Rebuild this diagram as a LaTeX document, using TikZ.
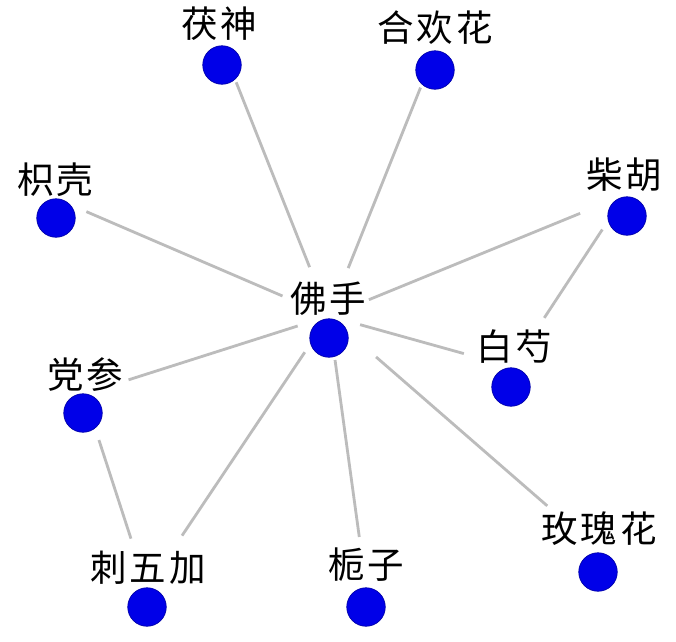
\documentclass[tikz,border=0pt]{standalone}
\usepackage{fontspec}
\newfontfamily\cjk{Noto Sans CJK SC}
\definecolor{dotblue}{RGB}{0,0,232}
\definecolor{dotedge}{RGB}{0,0,170}
\definecolor{edgegray}{RGB}{188,188,188}
\newcommand{\gp}{\kern3pt}
\begin{document}
\begin{tikzpicture}[x=1pt,y=-1pt,
  lbl/.style={font=\cjk\fontsize{36.5}{40}\selectfont, inner sep=0pt, anchor=center},
  dot/.style={circle, minimum size=38.5pt, inner sep=0pt, fill=dotblue, draw=dotedge, line width=0.7pt},
  edge/.style={draw=edgegray, line width=2.8pt}]
\useasboundingbox[fill=white] (0,0) rectangle (676,641);

% group centres
\coordinate (hub) at (329,316);
\coordinate (fushen) at (221,44);
\coordinate (hehuan) at (436,49);
\coordinate (zhike) at (57,199);
\coordinate (chaihu) at (625,195);
\coordinate (baishao) at (512,367);
\coordinate (dangshen) at (84,394);
\coordinate (ciwujia) at (147,588);
\coordinate (zhizi) at (366,586);
\coordinate (meigui) at (598,550);

% connectors
\draw[edge, shorten <=52.6pt, shorten >=41.2pt] (hub) -- (fushen);
\draw[edge, shorten <=51.6pt, shorten >=41.6pt] (hub) -- (hehuan);
\draw[edge, shorten <=50.6pt, shorten >=32pt] (hub) -- (zhike);
\draw[edge, shorten <=43.1pt, shorten >=48.5pt] (hub) -- (chaihu);
\draw[edge, shorten <=32.3pt, shorten >=50pt] (hub) -- (baishao);
\draw[edge, shorten <=41.3pt, shorten >=58.8pt] (chaihu) -- (baishao);
\draw[edge, shorten <=32.9pt, shorten >=46.8pt] (hub) -- (dangshen);
\draw[edge, shorten <=48.4pt, shorten >=51.9pt] (dangshen) -- (ciwujia);
\draw[edge, shorten <=43.6pt, shorten >=63pt] (hub) -- (ciwujia);
\draw[edge, shorten <=44.4pt, shorten >=49.5pt] (hub) -- (zhizi);
\draw[edge, shorten <=62.4pt, shorten >=67.3pt] (hub) -- (meigui);

% labels and dots
\node[lbl] (l-hub) at (328,299) {佛\gp 手};
\node[dot] (d-hub) at (329,338) {};
\node[lbl] (l-fushen) at (219,24) {茯\gp 神};
\node[dot] (d-fushen) at (222,65) {};
\node[lbl] (l-hehuan) at (435,28) {合\gp 欢\gp 花};
\node[dot] (d-hehuan) at (435,70) {};
\node[lbl] (l-zhike) at (55,180) {枳\gp 壳};
\node[dot] (d-zhike) at (56,218) {};
\node[lbl] (l-chaihu) at (624,175) {柴\gp 胡};
\node[dot] (d-chaihu) at (627,216) {};
\node[lbl] (l-baishao) at (514,347) {白\gp 芍};
\node[dot] (d-baishao) at (511,387) {};
\node[lbl] (l-dangshen) at (85,375) {党\gp 参};
\node[dot] (d-dangshen) at (83,413) {};
\node[lbl] (l-ciwujia) at (148,568) {刺\gp 五\gp 加};
\node[dot] (d-ciwujia) at (147,607) {};
\node[lbl] (l-zhizi) at (366,565) {栀\gp 子};
\node[dot] (d-zhizi) at (366,607) {};
\node[lbl] (l-meigui) at (599,529) {玫\gp 瑰\gp 花};
\node[dot] (d-meigui) at (598,572) {};
\end{tikzpicture}
\end{document}
